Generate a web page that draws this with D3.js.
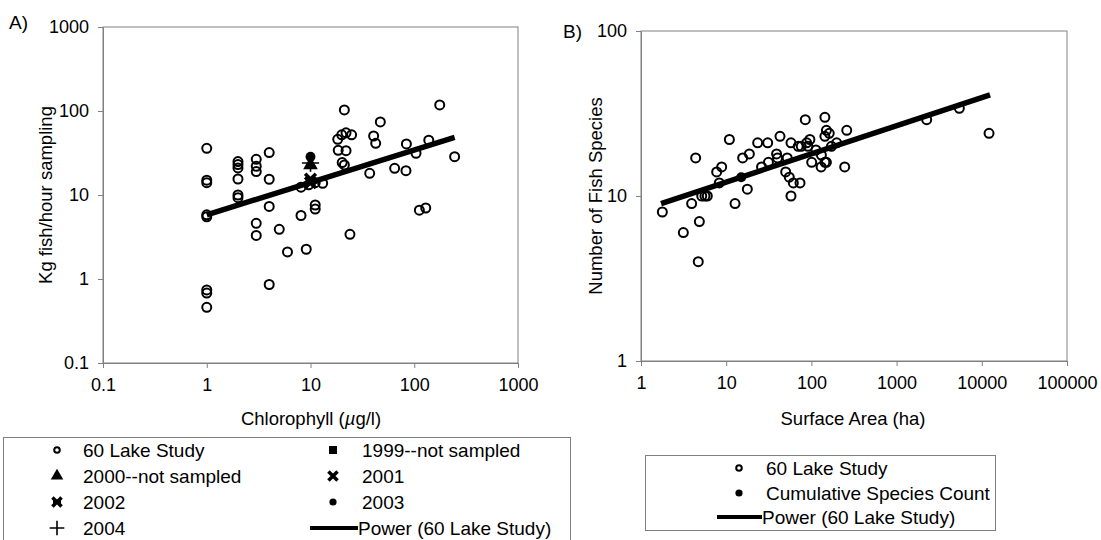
<!DOCTYPE html>
<html>
<head>
<meta charset="utf-8">
<script src="https://cdn.jsdelivr.net/npm/d3@7"></script>
<style>
  body { margin: 0; background: #fff; }
  svg { display: block; font-family: "Liberation Sans", Arial, Helvetica, sans-serif; }
</style>
</head>
<body>
<script>
// ---- Panel A data: chlorophyll (ug/l) vs kg fish / hour sampling ----
const chlA = [1, 1, 1, 1, 1, 1, 1, 1,
  2, 2, 2, 2, 2, 2,
  3, 3, 3, 3, 3,
  4, 4, 4, 4,
  5.0, 6.0, 8.1, 8.1, 9.1, 9.6, 11.1, 11.1, 11.1, 13.1,
  18.3, 18.5, 20, 20.2, 21.2, 21.2, 22, 22, 24.9, 24,
  37.2, 40.6, 42.5, 47.1, 64.7, 83.2, 84, 104, 112, 129, 138, 176, 245]
const kgA = [36, 15, 14, 5.8, 5.5, 0.74, 0.68, 0.46,
  25, 23, 21, 15.5, 10, 9.3,
  26.6, 22, 19, 4.6, 3.3,
  32, 15.4, 7.3, 0.86,
  3.9, 2.1, 12.4, 5.7, 2.26, 13.2, 14, 7.6, 6.8, 13.8,
  46, 34, 52, 24.3, 103, 22.8, 55, 33.7, 52, 3.4,
  18.1, 50.4, 41.2, 74, 20.8, 19.5, 40.5, 31.4, 6.6, 7.0, 45, 118, 28.6]

// yearly samples (all at 10 ug/l)
const yearNames = ["2000", "2001", "2002", "2003", "2004"]
const yearChl = [10, 10, 10, 10, 10]
const yearKg = [22.8, 15.5, 14, 28.5, 24]

// power trend line end points
const trendChl = [1, 245]
const trendKg = [5.8, 48.6]

// ---- Panel B data: surface area (ha) vs number of species ----
const areaB = [1.78, 3.14, 3.93, 4.84, 4.7, 4.38, 5.16, 5.63, 6.0, 7.73, 8.85, 8.3,
  10.9, 12.7, 15.6, 18.7, 17.7, 23.4, 30.7, 42.8, 39, 40, 31.3, 26,
  52, 49.9, 55, 61.4, 73.5, 57.6, 57.6, 70, 76, 84.8, 88, 96, 100.8,
  130, 144, 150, 162, 144, 144, 150, 198, 260, 246, 91, 131, 172, 113,
  2255, 5450, 12160]
const speciesB = [8, 6, 9, 7, 4, 17, 10, 10, 10, 14, 15, 12,
  22, 9, 17, 18, 11, 21, 21, 23, 18, 17, 16, 15,
  17, 14, 13, 12, 12, 10, 21, 20, 20, 29, 21, 22, 16,
  15, 30, 25, 24, 23, 16, 16, 21, 25, 15, 20, 17.7, 20, 19,
  29, 34, 24]

const cumArea = [15]
const cumSpecies = [13]

const trendArea = [1.72, 12500]
const trendSpecies = [9.0, 41]

// tick labels
const ticksAx = [0.1, 1, 10, 100, 1000]
const ticksAy = [0.1, 1, 10, 100, 1000]
const ticksBx = [1, 10, 100, 1000, 10000, 100000]
const ticksBy = [1, 10, 100]

const legendA1 = ["60 Lake Study", "2000--not sampled", "2002", "2004"]
const legendA2 = ["1999--not sampled", "2001", "2003", "Power (60 Lake Study)"]
const legendB = ["60 Lake Study", "Cumulative Species Count", "Power (60 Lake Study)"]

const axisGrey = "#808080"

let svg = d3.select("body").append("svg")
  .attr("width", 1101)
  .attr("height", 540)

let xA = d3.scaleLog().domain([0.1, 1000]).range([103, 518])
let yA = d3.scaleLog().domain([0.1, 1000]).range([363, 27])
let xB = d3.scaleLog().domain([1, 100000]).range([641, 1067])
let yB = d3.scaleLog().domain([1, 100]).range([361, 31])

function fmt(d) { return String(d) }

function drawFrame(x, y, tx, ty) {
  svg.append("rect")
    .attr("x", x.range()[0])
    .attr("y", y.range()[1])
    .attr("width", x.range()[1] - x.range()[0])
    .attr("height", y.range()[0] - y.range()[1])
    .style("fill", "none")
    .style("stroke", axisGrey)
    .style("stroke-width", 1)

  let gx = svg.append("g")
    .attr("transform", `translate(0,${y.range()[0]})`)
    .call(d3.axisBottom(x).tickValues(tx).tickFormat(fmt).tickSize(5).tickSizeOuter(0).tickPadding(10))
  let gy = svg.append("g")
    .attr("transform", `translate(${x.range()[0]},0)`)
    .call(d3.axisLeft(y).tickValues(ty).tickFormat(fmt).tickSize(5).tickSizeOuter(0).tickPadding(9))

  for (let g of [gx, gy]) {
    g.attr("font-family", null).attr("font-size", null)
    g.selectAll("path, line").attr("stroke", axisGrey)
    g.selectAll("text").style("font-size", "18px").style("fill", "#000")
  }
}

drawFrame(xA, yA, ticksAx, ticksAy)
drawFrame(xB, yB, ticksBx, ticksBy)

let line = d3.line()

// ---- Panel A marks ----
svg.append("g").selectAll("circle")
  .data(chlA.map((c, i) => [c, kgA[i]]))
  .join("circle")
  .attr("cx", d => xA(d[0]))
  .attr("cy", d => yA(d[1]))
  .attr("r", 4.5)
  .style("fill", "none")
  .style("stroke", "#000")
  .style("stroke-width", 2)

svg.append("path")
  .attr("d", line(trendChl.map((c, i) => [xA(c), yA(trendKg[i])])))
  .style("stroke", "#000")
  .style("stroke-width", 5.5)
  .style("fill", "none")

const plusType = d3.symbolPlus || d3.symbolCross

function marker(g, kind, cx, cy, scale) {
  scale = scale || 1
  if (kind == "open") {
    g.append("circle").attr("cx", cx).attr("cy", cy).attr("r", 3.5 * scale)
      .style("fill", "none").style("stroke", "#000").style("stroke-width", 2)
  } else if (kind == "dot") {
    g.append("circle").attr("cx", cx).attr("cy", cy).attr("r", 4.5 * scale).style("fill", "#000")
  } else if (kind == "square") {
    g.append("path").attr("transform", `translate(${cx},${cy})`)
      .attr("d", d3.symbol().type(d3.symbolSquare).size(80 * scale)()).style("fill", "#000")
  } else if (kind == "triangle") {
    g.append("path").attr("transform", `translate(${cx},${cy})`)
      .attr("d", d3.symbol().type(d3.symbolTriangle).size(85 * scale)()).style("fill", "#000")
  } else if (kind == "x") {
    g.append("path").attr("transform", `translate(${cx},${cy})`)
      .attr("d", d3.symbol().type(d3.symbolX).size(70 * scale)())
      .style("fill", "none").style("stroke", "#000").style("stroke-width", 3.5)
  } else if (kind == "asterisk") {
    g.append("path").attr("transform", `translate(${cx},${cy})`)
      .attr("d", d3.symbol().type(d3.symbolX).size(70 * scale)())
      .style("fill", "none").style("stroke", "#000").style("stroke-width", 3.5)
    g.append("path").attr("transform", `translate(${cx},${cy})`)
      .attr("d", `M${-5 * scale},0H${5 * scale}`)
      .style("stroke", "#000").style("stroke-width", 3)
  } else if (kind == "plus") {
    g.append("path").attr("transform", `translate(${cx},${cy})`)
      .attr("d", d3.symbol().type(plusType).size(90 * scale)())
      .style("fill", "none").style("stroke", "#000").style("stroke-width", 1.6)
  }
}

const yearKinds = ["triangle", "x", "asterisk", "dot", "plus"]
let yearsG = svg.append("g")
yearNames.forEach((n, i) => {
  marker(yearsG, yearKinds[i], xA(yearChl[i]), yA(yearKg[i]), 1.1)
})

// ---- Panel B marks ----
svg.append("g").selectAll("circle")
  .data(areaB.map((a, i) => [a, speciesB[i]]))
  .join("circle")
  .attr("cx", d => xB(d[0]))
  .attr("cy", d => yB(d[1]))
  .attr("r", 4.5)
  .style("fill", "none")
  .style("stroke", "#000")
  .style("stroke-width", 2)

svg.append("path")
  .attr("d", line(trendArea.map((a, i) => [xB(a), yB(trendSpecies[i])])))
  .style("stroke", "#000")
  .style("stroke-width", 5.5)
  .style("fill", "none")

svg.append("g").selectAll("circle")
  .data(cumArea.map((a, i) => [a, cumSpecies[i]]))
  .join("circle")
  .attr("cx", d => xB(d[0]))
  .attr("cy", d => yB(d[1]))
  .attr("r", 5)
  .style("fill", "#000")

// ---- Titles ----
svg.append("text").attr("x", 9).attr("y", 29).style("font-size", "19px").text("A)")
svg.append("text").attr("x", 563).attr("y", 38).style("font-size", "19px").text("B)")

svg.append("text")
  .attr("text-anchor", "middle")
  .attr("transform", `translate(52,${(yA.range()[0] + yA.range()[1]) / 2}) rotate(-90)`)
  .style("font-size", "18.5px")
  .text("Kg fish/hour sampling")

svg.append("text")
  .attr("text-anchor", "middle")
  .attr("transform", `translate(602,${(yB.range()[0] + yB.range()[1]) / 2}) rotate(-90)`)
  .style("font-size", "18.5px")
  .text("Number of Fish Species")

let chlTitle = svg.append("text")
  .attr("text-anchor", "middle")
  .attr("x", 311)
  .attr("y", 425)
  .style("font-size", "18.5px")
chlTitle.append("tspan").text("Chlorophyll (")
chlTitle.append("tspan").style("font-style", "italic").text("\u00b5")
chlTitle.append("tspan").text("g/l)")

svg.append("text")
  .attr("text-anchor", "middle")
  .attr("x", 853)
  .attr("y", 425)
  .style("font-size", "18.5px")
  .text("Surface Area (ha)")

// ---- Legend A ----
let legA = svg.append("g")
legA.append("rect")
  .attr("x", 3.5).attr("y", 437.5)
  .attr("width", 567).attr("height", 120)
  .style("fill", "#fff").style("stroke", axisGrey)

const rowsA = [450, 476, 502, 528]
const kindsA1 = ["open", "triangle", "asterisk", "plus"]
const kindsA2 = ["square", "x", "dot", "line"]
legendA1.forEach((t, i) => {
  marker(legA, kindsA1[i], 57, rowsA[i], 0.8)
  legA.append("text").attr("x", 83).attr("y", rowsA[i]).attr("dy", "0.36em")
    .style("font-size", "19px").text(t)
})
legendA2.forEach((t, i) => {
  if (kindsA2[i] == "line") {
    legA.append("line").attr("x1", 310).attr("x2", 358)
      .attr("y1", rowsA[i]).attr("y2", rowsA[i])
      .style("stroke", "#000").style("stroke-width", 4)
    legA.append("text").attr("x", 358).attr("y", rowsA[i]).attr("dy", "0.36em")
      .style("font-size", "19px").text(t)
  } else {
    marker(legA, kindsA2[i], 333, rowsA[i], 0.8)
    legA.append("text").attr("x", 362).attr("y", rowsA[i]).attr("dy", "0.36em")
      .style("font-size", "19px").text(t)
  }
})

// ---- Legend B ----
let legB = svg.append("g")
legB.append("rect")
  .attr("x", 645.5).attr("y", 455.5)
  .attr("width", 350).attr("height", 75)
  .style("fill", "#fff").style("stroke", axisGrey)

const rowsB = [468, 493, 517]
const kindsB = ["open", "dot", "line"]
legendB.forEach((t, i) => {
  if (kindsB[i] == "line") {
    legB.append("line").attr("x1", 717).attr("x2", 762)
      .attr("y1", rowsB[i]).attr("y2", rowsB[i])
      .style("stroke", "#000").style("stroke-width", 4)
    legB.append("text").attr("x", 762).attr("y", rowsB[i]).attr("dy", "0.36em")
      .style("font-size", "19px").text(t)
  } else {
    marker(legB, kindsB[i], 739, rowsB[i], 0.8)
    legB.append("text").attr("x", 766).attr("y", rowsB[i]).attr("dy", "0.36em")
      .style("font-size", "19px").text(t)
  }
})
</script>
</body>
</html>
